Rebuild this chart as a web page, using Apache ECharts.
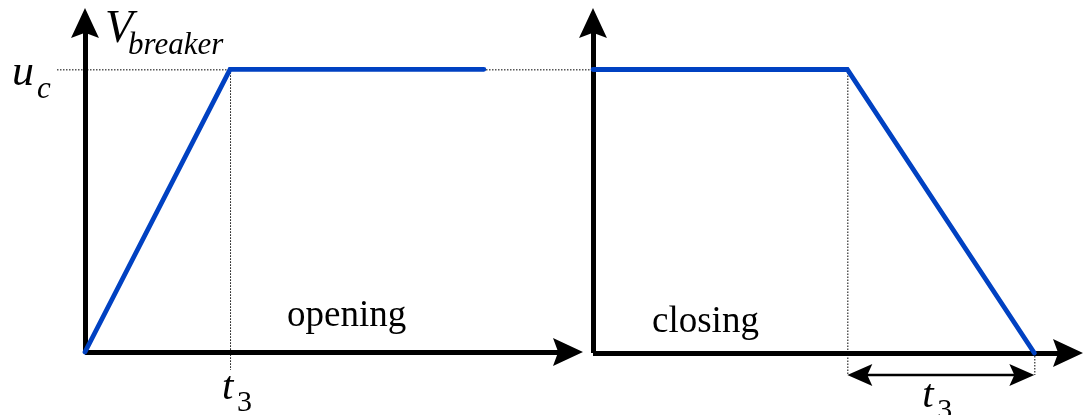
<!DOCTYPE html>
<html>
<head>
<meta charset="utf-8">
<title>Breaker voltage: opening and closing</title>
<script src="https://cdn.jsdelivr.net/npm/echarts@6/dist/echarts.min.js"></script>
<style>
  html, body { margin: 0; padding: 0; background: #fff; }
  #chart { width: 1084px; height: 415px; }
</style>
</head>
<body>
<div id="chart"></div>
<script>
// Opening: voltage ramps from 0 to u_c over t3, then holds.
const openT = [0, 1, 2.75];
const openV = [0, 1, 1];
// Closing: voltage holds at u_c, then falls to 0 over t3.
const closeT = [0, 1.36, 2.36];
const closeV = [1, 1, 0];

// Axis ranges (time in units of t3, voltage in units of u_c)
const openTMax = 3.33;
const closeTMax = 2.54;
const vMax = 1.164;

const BLUE = '#0041C2';
const SERIF = '"Liberation Serif", "Times New Roman", serif';
// Notched arrowhead pointing up; the axis rotates it along its direction.
const ARROW = 'path://M13.5,0 L27,29 L13.5,24 L0,29 Z';

function axisBase(max) {
  return {
    type: 'value', min: 0, max: max,
    axisLine: {
      show: true, onZero: false,
      symbol: ['none', ARROW], symbolSize: [28, 30],
      lineStyle: { color: '#000', width: 5, cap: 'butt' }
    },
    axisTick: { show: false },
    axisLabel: { show: false },
    splitLine: { show: false }
  };
}

function pairs(xs, ys) { return xs.map((x, i) => [x, ys[i]]); }

const chart = echarts.init(document.getElementById('chart'), null, { renderer: 'canvas' });

chart.setOption({
  animation: false,
  backgroundColor: '#fff',
  grid: [
    { left: 85, top: 23, right: 516, bottom: 63 },
    { left: 593, top: 23, right: 16, bottom: 62 }
  ],
  xAxis: [
    Object.assign(axisBase(openTMax), { gridIndex: 0 }),
    Object.assign(axisBase(closeTMax), { gridIndex: 1 })
  ],
  yAxis: [
    Object.assign(axisBase(vMax), { gridIndex: 0 }),
    Object.assign(axisBase(vMax), { gridIndex: 1 })
  ],
  series: [
    {
      name: 'opening', type: 'line', xAxisIndex: 0, yAxisIndex: 0,
      data: pairs(openT, openV), symbol: 'none', clip: false, silent: true, z: 5,
      lineStyle: { color: BLUE, width: 4.8, cap: 'round', join: 'miter' }
    },
    {
      name: 'closing', type: 'line', xAxisIndex: 1, yAxisIndex: 1,
      data: pairs(closeT, closeV), symbol: 'none', clip: false, silent: true, z: 5,
      lineStyle: { color: BLUE, width: 4.8, cap: 'round', join: 'miter' }
    }
  ]
});

// Guides and labels, placed from the axes' own scales.
const pL = (x, y) => chart.convertToPixel({ xAxisIndex: 0, yAxisIndex: 0 }, [x, y]);
const pR = (x, y) => chart.convertToPixel({ xAxisIndex: 1, yAxisIndex: 1 }, [x, y]);

const originL = pL(0, 0);
const originR = pR(0, 0);
const ucL = pL(openT[1], openV[1]);        // corner of the opening ramp
const kinkR = pR(closeT[1], closeV[1]);    // start of the closing fall
const endR = pR(closeT[2], closeV[2]);     // end of the closing fall
const ucY = ucL[1];
const dimY = originR[1] + 22;              // dimension arrow below the time axis

const dotted = { stroke: '#000', lineWidth: 1, lineDash: [1.5, 1.5] };

function vline(x, y1, y2) {
  return { type: 'line', silent: true, z: 1,
    shape: { x1: x + 0.5, y1: y1, x2: x + 0.5, y2: y2 }, style: dotted };
}

function label(text, x, baseline, size, italic) {
  return {
    type: 'text', silent: true, z: 10,
    style: {
      text: text, x: x, y: baseline - 0.305 * size,
      font: (italic ? 'italic ' : '') + size + 'px ' + SERIF,
      fill: '#000', textAlign: 'left', textVerticalAlign: 'middle', verticalAlign: 'middle'
    }
  };
}

function head(tipX, dir, y) {
  // notched arrowhead for the dimension line; dir = +1 points right, -1 points left
  const L = 25, N = 20, H = 11;
  return {
    type: 'polygon', silent: true, z: 6,
    shape: { points: [
      [tipX, y], [tipX - dir * L, y - H], [tipX - dir * N, y], [tipX - dir * L, y + H]
    ] },
    style: { fill: '#000' }
  };
}

chart.setOption({
  graphic: [
    // u_c level, running across both panels
    { type: 'line', silent: true, z: 1,
      shape: { x1: originL[0] - 28, y1: ucY + 0.5, x2: originR[0], y2: ucY + 0.5 }, style: dotted },
    vline(ucL[0], ucY, originL[1] + 18),
    vline(kinkR[0], kinkR[1], dimY),
    vline(endR[0], endR[1], dimY),
    // t3 dimension arrow on the closing panel
    { type: 'line', silent: true, z: 6,
      shape: { x1: kinkR[0] + 18, y1: dimY, x2: endR[0] - 18, y2: dimY },
      style: { stroke: '#000', lineWidth: 2.5 } },
    head(kinkR[0], -1, dimY),
    head(endR[0], 1, dimY),
    // axis and level labels
    label('V', originL[0] + 20, 44, 46, true),
    label('breaker', originL[0] + 43, 55, 31, true),
    label('u', 12, 87, 44, true),
    label('c', 37, 99, 31, true),
    label('t', ucL[0] - 8, 401, 41, true),
    label('3', ucL[0] + 7, 412, 30, false),
    label('t', kinkR[0] + 75, 409, 41, true),
    label('3', kinkR[0] + 90, 420, 30, false),
    label('opening', 287, 328, 37, false),
    label('closing', 652, 334, 37, false)
  ]
});
</script>
</body>
</html>
